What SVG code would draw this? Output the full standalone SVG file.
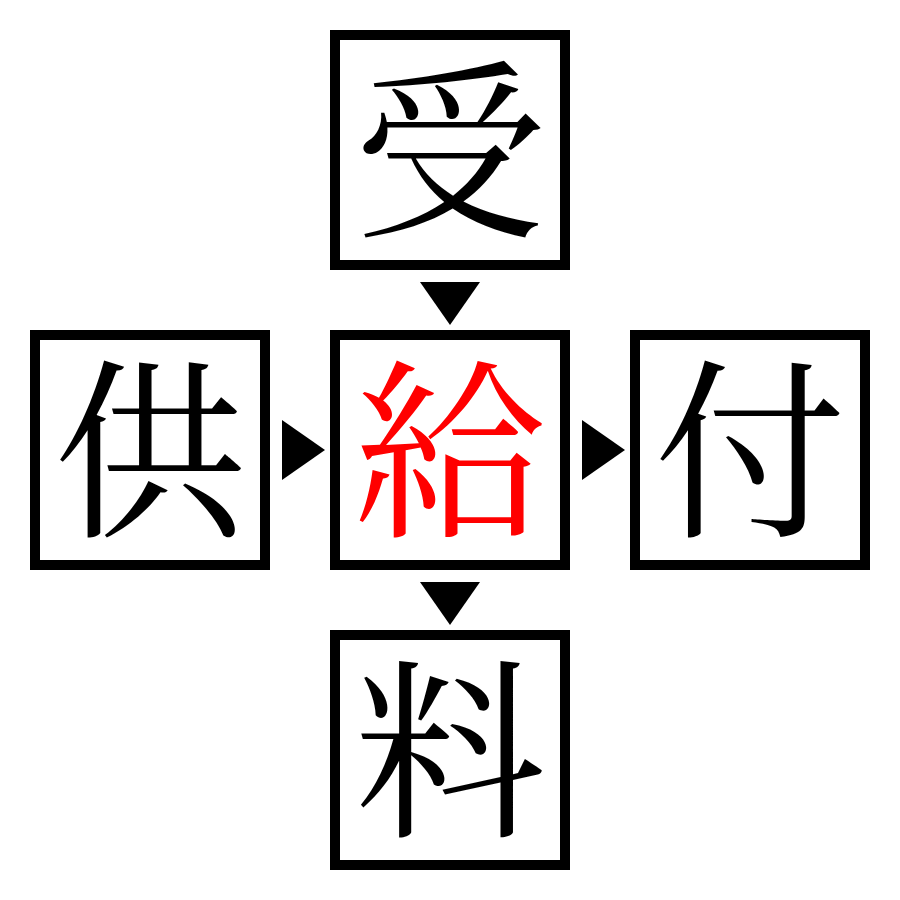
<svg xmlns="http://www.w3.org/2000/svg" width="900" height="900" viewBox="0 0 900 900">
<style>
.box{fill:#fff;stroke:#000;stroke-width:10}
.ch{font-family:"Noto Serif CJK JP","Noto Sans CJK JP",serif;font-size:192px;text-anchor:middle;dominant-baseline:central;fill:#000}
.arr{fill:#000}
</style>
<rect width="900" height="900" fill="#fff"/>
<g id="node-top"><rect class="box" x="335" y="35" width="230" height="230"/><text class="ch" x="450" y="139">受</text></g>
<g id="node-left"><rect class="box" x="35" y="335" width="230" height="230"/><text class="ch" x="150" y="439">供</text></g>
<g id="node-center"><rect class="box" x="335" y="335" width="230" height="230"/><text class="ch" x="450" y="439" style="fill:#f00">給</text></g>
<g id="node-right"><rect class="box" x="635" y="335" width="230" height="230"/><text class="ch" x="750" y="439">付</text></g>
<g id="node-bottom"><rect class="box" x="335" y="635" width="230" height="230"/><text class="ch" x="450" y="739">料</text></g>
<g id="connectors">
<polygon class="arr" points="420,282 480,282 450,325"/>
<polygon class="arr" points="282,420 282,480 325,450"/>
<polygon class="arr" points="582,420 582,480 625,450"/>
<polygon class="arr" points="420,582 480,582 450,625"/>
</g>
</svg>
